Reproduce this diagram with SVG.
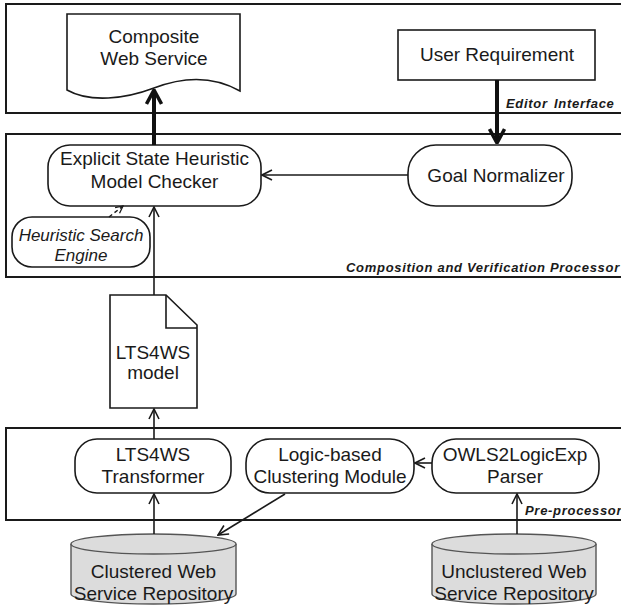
<svg xmlns="http://www.w3.org/2000/svg" width="621" height="606" viewBox="0 0 621 606">
<style>
  text { font-family: "Liberation Sans", Arial, sans-serif; fill: #1a1a1a; }
  .t { font-size: 19px; text-anchor: middle; }
  .ti { font-size: 17px; font-style: italic; text-anchor: middle; }
  .lbl { font-size: 13px; font-weight: bold; font-style: italic; letter-spacing: 0.7px; }
  .frame { fill: #ffffff; stroke: #1a1a1a; stroke-width: 2; }
  .node { fill: #ffffff; stroke: #1a1a1a; stroke-width: 1.6; }
  .db { fill: #dcdcdc; stroke: #555555; stroke-width: 1.4; }
  .c { fill: none; stroke: #1a1a1a; stroke-width: 1.6; }
  .thick { fill: none; stroke: #111111; stroke-width: 4; }
  .dash { fill: none; stroke: #1a1a1a; stroke-width: 1.4; stroke-dasharray: 4 3; }
</style>
<defs>
  <marker id="open" viewBox="0 0 12 12" refX="11" refY="6" markerWidth="12" markerHeight="12" markerUnits="userSpaceOnUse" orient="auto">
    <path d="M1,1 L11,6 L1,11" fill="none" stroke="#1a1a1a" stroke-width="1.6"/>
  </marker>
  <marker id="openBig" viewBox="0 0 16 18" refX="15" refY="9" markerWidth="16" markerHeight="18" markerUnits="userSpaceOnUse" orient="auto">
    <path d="M1,1.5 L15,9 L1,16.5" fill="none" stroke="#111111" stroke-width="3.5"/>
  </marker>
  <marker id="openSmall" viewBox="0 0 10 10" refX="9" refY="5" markerWidth="9" markerHeight="9" markerUnits="userSpaceOnUse" orient="auto">
    <path d="M1,1 L9,5 L1,9" fill="none" stroke="#1a1a1a" stroke-width="1.4"/>
  </marker>
</defs>

<g id="editor-interface">
  <rect class="frame" x="6" y="4" width="630" height="109"/>
  <text class="lbl" x="506" y="108">Editor<tspan x="554">Interface</tspan></text>
</g>
<g id="composition-verification">
  <rect class="frame" x="6" y="134" width="630" height="143"/>
  <text class="lbl" x="346" y="272">Composition and Verification Processor</text>
</g>
<g id="pre-processor">
  <rect class="frame" x="6" y="428" width="630" height="92"/>
  <text class="lbl" x="525" y="515">Pre-processor</text>
</g>

<g id="composite-web-service">
  <path class="node" d="M67,14 H240 V91 C210,74 180,78 154,88 C125,99 90,103 67,90 Z"/>
  <text class="t" x="154" y="43">Composite</text>
  <text class="t" x="154" y="65">Web Service</text>
</g>
<g id="user-requirement">
  <rect class="node" x="398" y="30" width="197" height="50"/>
  <text class="t" x="497" y="61">User Requirement</text>
</g>
<g id="model-checker">
  <rect class="node" x="48" y="145" width="213" height="61" rx="22" ry="22"/>
  <text class="t" x="154.5" y="165">Explicit State Heuristic</text>
  <text class="t" x="154.5" y="188">Model Checker</text>
</g>
<g id="goal-normalizer">
  <rect class="node" x="408" y="145" width="164" height="61" rx="28" ry="28"/>
  <text class="t" x="496" y="182">Goal Normalizer</text>
</g>
<g id="heuristic-search-engine">
  <rect class="node" x="12" y="217" width="138" height="50" rx="20" ry="20"/>
  <text class="ti" x="81" y="241">Heuristic Search</text>
  <text class="ti" x="81" y="261">Engine</text>
</g>
<g id="lts4ws-model">
  <path class="node" d="M110,295 H166 L197,325 V408 H110 Z"/>
  <path class="c" d="M166,295 V328 H197"/>
  <text class="t" x="153" y="359">LTS4WS</text>
  <text class="t" x="153" y="379">model</text>
</g>
<g id="lts4ws-transformer">
  <rect class="node" x="75" y="439" width="156" height="54" rx="22" ry="22"/>
  <text class="t" x="153" y="461">LTS4WS</text>
  <text class="t" x="153" y="483">Transformer</text>
</g>
<g id="clustering-module">
  <rect class="node" x="246" y="439" width="168" height="54" rx="24" ry="24"/>
  <text class="t" x="330" y="461">Logic-based</text>
  <text class="t" x="330" y="483">Clustering Module</text>
</g>
<g id="owls-parser">
  <rect class="node" x="432" y="439" width="167" height="54" rx="24" ry="24"/>
  <text class="t" x="515" y="461">OWLS2LogicExp</text>
  <text class="t" x="515" y="483">Parser</text>
</g>
<g id="clustered-repository">
  <path class="db" d="M71,544 V594 A82.5,10 0 0 0 236,594 V544"/>
  <ellipse class="db" cx="153.5" cy="544" rx="82.5" ry="10"/>
  <text class="t" x="153.5" y="578">Clustered Web</text>
  <text class="t" x="153.5" y="600">Service Repository</text>
</g>
<g id="unclustered-repository">
  <path class="db" d="M432,544 V594 A82,10 0 0 0 596,594 V544"/>
  <ellipse class="db" cx="514" cy="544" rx="82" ry="10"/>
  <text class="t" x="514" y="578">Unclustered Web</text>
  <text class="t" x="514" y="600">Service Repository</text>
</g>

<g id="connectors">
  <line class="thick" x1="154" y1="145" x2="154" y2="90" marker-end="url(#openBig)"/>
  <line class="thick" x1="497" y1="80" x2="497" y2="143" marker-end="url(#openBig)"/>
  <line class="c" x1="408" y1="175" x2="262" y2="175" marker-end="url(#open)"/>
  <line class="dash" x1="109" y1="217" x2="123" y2="206" marker-end="url(#openSmall)"/>
  <line class="c" x1="154" y1="295" x2="154" y2="207" marker-end="url(#open)"/>
  <line class="c" x1="154" y1="439" x2="154" y2="409" marker-end="url(#open)"/>
  <line class="c" x1="432" y1="463" x2="415" y2="463" marker-end="url(#open)"/>
  <line class="c" x1="285" y1="494" x2="218" y2="535" marker-end="url(#open)"/>
  <line class="c" x1="154" y1="534" x2="154" y2="494" marker-end="url(#open)"/>
  <line class="c" x1="517" y1="534" x2="517" y2="494" marker-end="url(#open)"/>
</g>
</svg>
